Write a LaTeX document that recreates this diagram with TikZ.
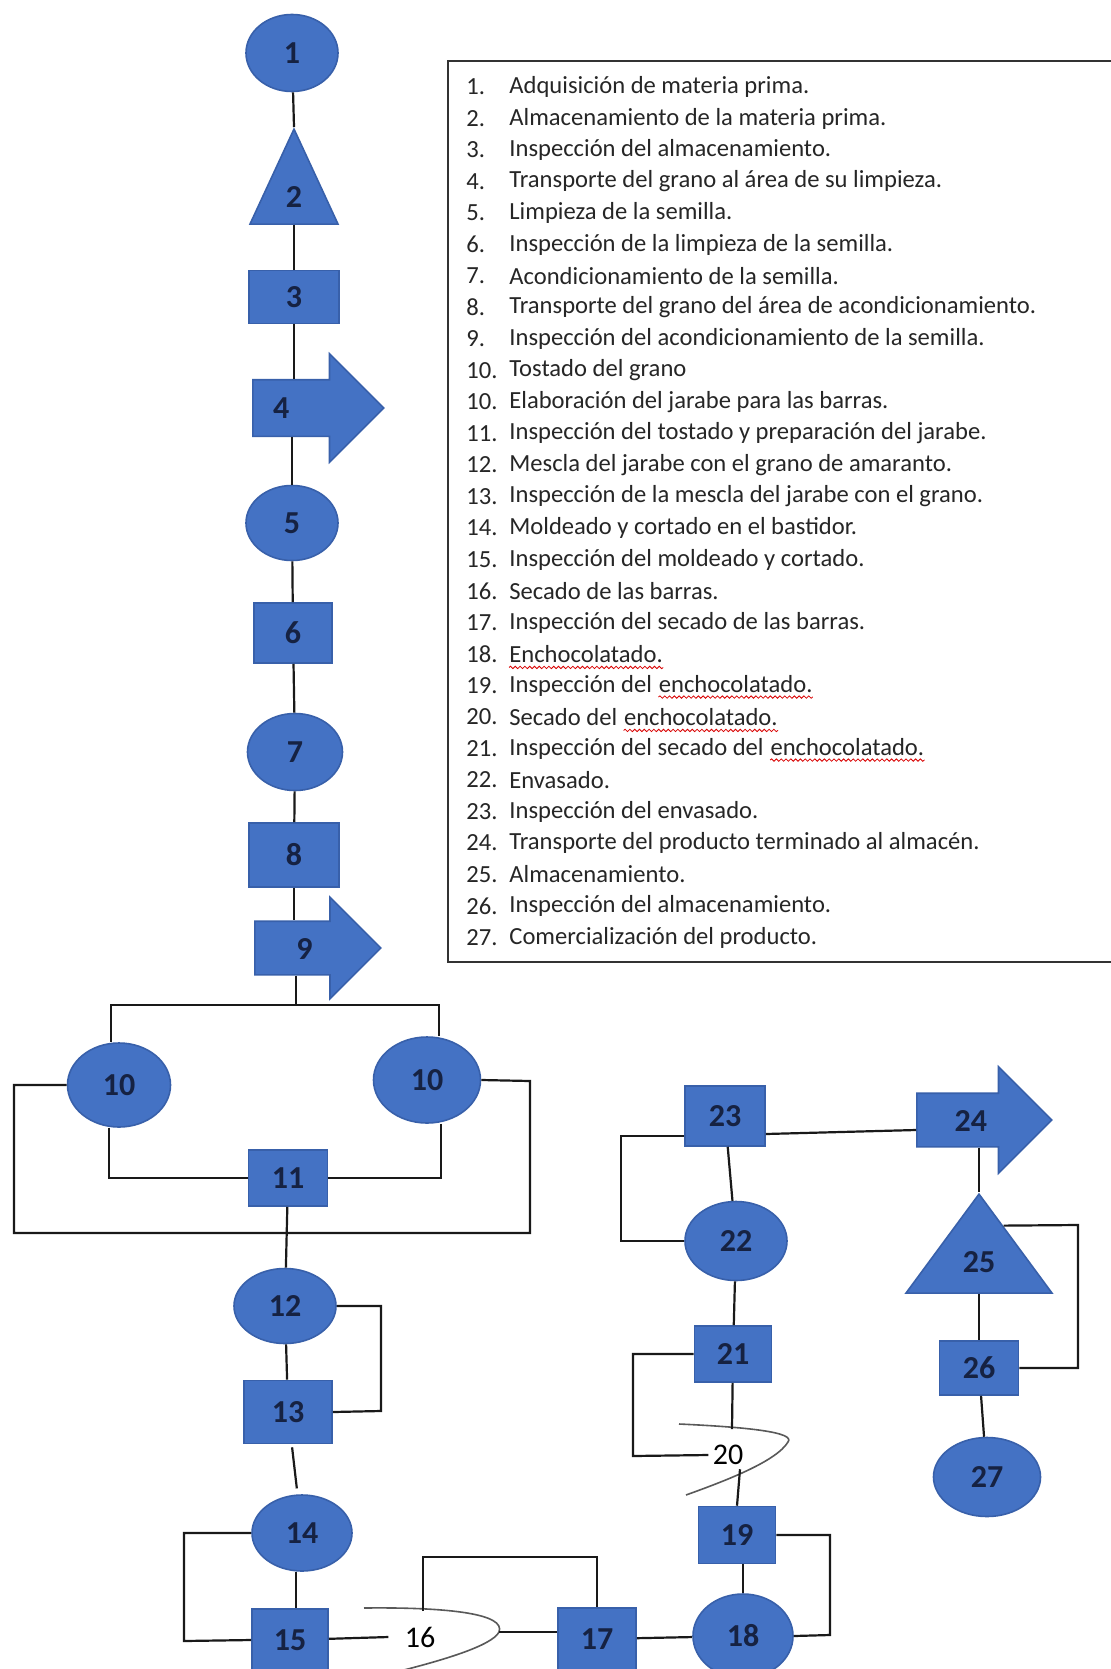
\documentclass[tikz,border=0pt]{standalone}
\usepackage{fontspec}
\setmainfont{Carlito}
\usetikzlibrary{shapes.geometric,shapes.arrows,calc,positioning,decorations.pathmorphing}

\definecolor{azul}{RGB}{68,114,196}
\definecolor{azulborde}{RGB}{56,96,170}
\definecolor{tinta}{RGB}{22,34,66}

\tikzset{
  etq/.style   ={text=tinta,font=\bfseries\fontsize{16}{16}\selectfont},
  ovalo/.style ={ellipse,fill=azul,draw=azulborde,line width=.8pt,inner sep=0pt,etq},
  caja/.style  ={rectangle,fill=azul,draw=azulborde,line width=.8pt,inner sep=0pt,etq},
  flecha/.style={single arrow,single arrow tip angle=90,fill=azul,draw=azulborde,line width=.8pt,
                 text height=11pt,text depth=0pt,inner xsep=2pt,etq},
  tri/.style   ={isosceles triangle,isosceles triangle stretches,shape border rotate=90,fill=azul,draw=azulborde,
                 line width=.8pt,inner sep=0pt,etq},
  nota/.style  ={inner sep=2pt,font=\fontsize{15}{15}\selectfont},
  item/.style  ={anchor=west,inner sep=0pt,text=black!85,font=\fontsize{12.3}{13}\selectfont},
  onda/.style  ={draw=red!85!black,line width=.4pt,decorate,decoration={snake,amplitude=.6pt,segment length=2.4pt}},
  lin/.style   ={draw=black!90,line width=1.1pt},
  curva/.style ={draw=black!65,line width=.8pt}
}

\begin{document}
\begin{tikzpicture}[x=0.5pt,y=-0.5pt]
\path[use as bounding box,fill=white] (0,0) rectangle (1110,1669);

% -------- main column (1..9) --------
\node[ovalo,minimum width=46pt,minimum height=38.5pt] (p1) at (292,53) {1};
\node[tri,minimum width=44pt,minimum height=47.5pt,anchor=apex] (p2) at (294,127) {2};
\node[caja,minimum width=45pt,minimum height=26.5pt] (p3) at (294,297) {3};
\node[flecha,minimum height=65.5pt,inner ysep=8.25pt,single arrow head extend=13pt,anchor=tail,
      label={[etq,xshift=-11.5pt]center:4}] (p4) at (252,408) {};
\node[ovalo,minimum width=46pt,minimum height=37.5pt] (p5) at (292,523) {5};
\node[caja,minimum width=39pt,minimum height=30pt] (p6) at (293,633) {6};
\node[ovalo,minimum width=47.5pt,minimum height=38.5pt] (p7) at (295,752) {7};
\node[caja,minimum width=45pt,minimum height=32pt] (p8) at (294,855) {8};
\node[flecha,minimum height=63pt,inner ysep=7.5pt,single arrow head extend=12pt,anchor=tail] (p9) at (254,948) {9};
\coordinate (barra) at (296,1005);

% -------- branch 10 / 10 / 11 --------
\node[ovalo,minimum width=51.5pt,minimum height=42pt] (p10a) at (119,1085) {10};
\node[ovalo,minimum width=53.5pt,minimum height=43pt] (p10b) at (427,1080) {10};
\node[caja,minimum width=39.5pt,minimum height=28pt] (p11) at (288,1178) {11};

% -------- 12 .. 17 --------
\node[ovalo,minimum width=51pt,minimum height=37.5pt] (p12) at (285,1306) {12};
\node[caja,minimum width=44pt,minimum height=31.5pt] (p13) at (288,1412) {13};
\node[ovalo,minimum width=50pt,minimum height=38pt] (p14) at (302,1533) {14};
\node[caja,minimum width=38pt,minimum height=31pt] (p15) at (290,1640) {15};
\node[nota] (p16) at (420,1637) {16};
\node[caja,minimum width=39pt,minimum height=31pt] (p17) at (597,1639) {17};

% -------- 18 .. 23 --------
\node[ovalo,minimum width=50pt,minimum height=42pt] (p18) at (743,1636) {18};
\node[caja,minimum width=38.5pt,minimum height=28.5pt] (p19) at (737,1535) {19};
\node[nota] (p20) at (728,1455) {20};
\node[caja,minimum width=38.5pt,minimum height=28pt] (p21) at (733,1354) {21};
\node[ovalo,minimum width=51pt,minimum height=39.5pt] (p22) at (736,1241) {22};
\node[caja,minimum width=40pt,minimum height=30pt] (p23) at (725,1116) {23};

% -------- 24 .. 27 --------
\node[flecha,minimum height=67.5pt,inner ysep=7.5pt,single arrow head extend=13.25pt,anchor=tail] (p24) at (916,1120) {24};
\node[tri,minimum width=73pt,minimum height=49.5pt,anchor=apex] (p25) at (979,1192) {25};
\node[caja,minimum width=39.5pt,minimum height=27pt] (p26) at (979,1368) {26};
\node[ovalo,minimum width=53.5pt,minimum height=39.5pt] (p27) at (987,1477) {27};

% straight links
\foreach \a/\b in {p1/p2.apex,p2.lower side/p3,p5/p6,p6/p7,p7/p8,p11/p12,p12/p13,
                   p17/p18,p22/p21,p23/p22,p25.lower side/p26,p26/p27}
  \draw[lin] (\a) -- (\b);
\draw[lin] ([xshift=-3pt]p14.south) -- ([xshift=3pt]p15.north);
\draw[lin] ([xshift=3pt]p19.south) -- (p18);

% links through the arrows
\draw[lin] (p3) -- (p3 |- p4.90);
\draw[lin] (p5) -- (p5 |- p4.270);
\draw[lin] (p8) -- (p8 |- p9.90);
\draw[lin] (barra |- p9.270) -- (barra);
\draw[lin] ([yshift=-9pt]p23.east) -- ([yshift=-5pt]p24.tail);
\draw[lin] (p25.apex |- p24.270) -- (p25.apex);

% split into 10 / 10 and back to 11
\draw[lin] ([xshift=-4pt]p10a.north) |- (barra);
\draw[lin] ([xshift=6pt]p10b.north) |- (barra);
\draw[lin] ([xshift=-5pt]p10a.south) |- (p11.west);
\draw[lin] ([xshift=7pt]p10b.south) |- (p11.east);
\draw[lin] (p10a.west) -| (14,1233) -| (530,1081) -- (p10b.east);

% loops
\draw[lin] (p12.east) -| (381,1411) -- (p13.east);
\draw[lin,shorten <=1.5pt,shorten >=3pt] (p13) -- (p14);
\draw[lin] (p14.west) -| (184,1641) -- (p15.west);
\draw[lin] (p19.east) -| (830,1635) -- (p18.east);
\draw[lin] ([yshift=-10pt]p23.west) -| (621,1241) -- (p22.west);
\coordinate (e25) at ($(p25.apex)!0.33!(p25.right corner)$);
\draw[lin] (p26.east) -| (1078,1225) -- (e25);

% -------- delay 16 --------
\coordinate (d16) at (499,1632);
\coordinate (t16) at (423,1611);
\draw[curva] (364,1608) .. controls (450,1607) and (506,1614) .. (d16) .. controls (492,1646) and (440,1661) .. (396,1672);
\draw[lin] (p15) -- ([xshift=-6pt]p16.west);
\draw[lin] (d16) -- (d16 -| p17.west);
\draw[lin] (t16) -- ++(0,-54) -| (p17.north);

% -------- delay 20 --------
\coordinate (t20) at (732,1429);
\draw[curva] (679,1424) .. controls (745,1427) and (796,1432) .. (788,1442) .. controls (776,1462) and (722,1482) .. (686,1495);
\draw[lin] (p21) -- (t20);
\draw[lin] (p21.west) -| (633,1456) -- (p20.west);
\draw[lin] (p19.north) -- ([xshift=6pt]p20.south);

% -------- legend --------
\node[draw=black!80,line width=1pt,minimum width=334pt,minimum height=450.5pt,anchor=north west,inner sep=0pt] (cuadro) at (447,60) {};
\foreach \k/\num/\txt in {
  0/1./Adquisición de materia prima.,
  1/2./Almacenamiento de la materia prima.,
  2/3./Inspección del almacenamiento.,
  3/4./Transporte del grano al área de su limpieza.,
  4/5./Limpieza de la semilla.,
  5/6./Inspección de la limpieza de la semilla.,
  6/7./Acondicionamiento de la semilla.,
  7/8./Transporte del grano del área de acondicionamiento.,
  8/9./Inspección del acondicionamiento de la semilla.,
  9/10./Tostado del grano,
  10/10./Elaboración del jarabe para las barras.,
  11/11./Inspección del tostado y preparación del jarabe.,
  12/12./Mescla del jarabe con el grano de amaranto.,
  13/13./Inspección de la mescla del jarabe con el grano.,
  14/14./Moldeado y cortado en el bastidor.,
  15/15./Inspección del moldeado y cortado.,
  16/16./Secado de las barras.,
  17/17./Inspección del secado de las barras.,
  18/18./Enchocolatado.,
  19/19./Inspección del,
  20/20./Secado del,
  21/21./Inspección del secado del,
  22/22./Envasado.,
  23/23./Inspección del envasado.,
  24/24./Transporte del producto terminado al almacén.,
  25/25./Almacenamiento.,
  26/26./Inspección del almacenamiento.,
  27/27./Comercialización del producto.}{
  \node[item] (num\k) at (466,{87+31.5*\k}) {\num};
  \node[item] (txt\k) at (509,{87+31.5*\k}) {\txt};
}
\node[item,base right=3pt of txt19] (w19) {enchocolatado.};
\node[item,base right=3pt of txt20] (w20) {enchocolatado.};
\node[item,base right=3pt of txt21] (w21) {enchocolatado.};
\foreach \w in {txt18,w19,w20,w21}
  \draw[onda] ([yshift=-2.5pt]\w.base west) -- ([yshift=-2.5pt]\w.base east);

\end{tikzpicture}
\end{document}
